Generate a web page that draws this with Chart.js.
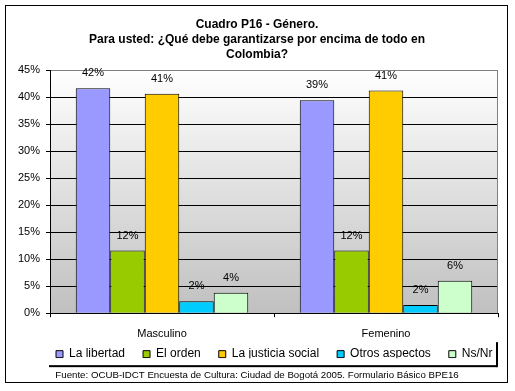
<!DOCTYPE html>
<html>
<head>
<meta charset="utf-8">
<script src="https://cdn.jsdelivr.net/npm/chart.js@4/dist/chart.umd.min.js"></script>
<style>
html,body{margin:0;padding:0;background:#fff;}
canvas{display:block;}
</style>
</head>
<body>
<canvas id="c" width="515" height="391"></canvas>
<script>
// ---- data ----
const categories = ['Masculino', 'Femenino'];
const seriesNames = ['La libertad', 'El orden', 'La justicia social', 'Otros aspectos', 'Ns/Nr'];
const laLibertad = [41.6, 39.4];
const elOrden = [11.6, 11.6];
const laJusticiaSocial = [40.6, 41.2];
const otrosAspectos = [2.2, 1.5];
const nsNr = [3.8, 6.0];
const yTicks = [0, 5, 10, 15, 20, 25, 30, 35, 40, 45];
const titleLines = ['Cuadro P16 - Género.', 'Para usted: ¿Qué debe garantizarse por encima de todo en', 'Colombia?'];
const footerText = 'Fuente: OCUB-IDCT Encuesta de Cultura: Ciudad de Bogotá 2005. Formulario Básico BPE16';

const seriesValues = [laLibertad, elOrden, laJusticiaSocial, otrosAspectos, nsNr];
const seriesColors = ['#9999FF', '#99CC00', '#FFCC00', '#00CCFF', '#CCFFCC'];

Chart.defaults.font.family = "'Liberation Sans', Arial, sans-serif";
Chart.defaults.color = '#000';

const LEGEND_PAD = 18;

const bgPlugin = {
  id: 'bgPlugin',
  afterLayout(chart) {
    // place legend row closer to the axis labels and align it like the original
    const lg = chart.legend;
    const a = chart.chartArea;
    const w = lg.right - lg.left;
    lg.left = a.left + 6 - LEGEND_PAD;
    lg.right = lg.left + w;
    lg.top -= 10;
    lg.bottom -= 10;
  },
  beforeDraw(chart) {
    const {ctx, chartArea: a} = chart;
    ctx.save();
    ctx.fillStyle = '#fff';
    ctx.fillRect(0, 0, chart.width, chart.height);
    const g = ctx.createLinearGradient(0, a.top, 0, a.bottom);
    g.addColorStop(0, '#ffffff');
    g.addColorStop(1, '#c0c0c0');
    ctx.fillStyle = g;
    ctx.fillRect(a.left, a.top, a.right - a.left, a.bottom - a.top);
    ctx.restore();
  },
  afterDraw(chart) {
    const {ctx, chartArea: a} = chart;
    ctx.save();
    // plot area right border
    ctx.strokeStyle = '#808080';
    ctx.lineWidth = 1;
    ctx.beginPath();
    ctx.moveTo(Math.round(a.right) - 0.5, a.top);
    ctx.lineTo(Math.round(a.right) - 0.5, a.bottom);
    ctx.stroke();
    // outer frame
    ctx.strokeStyle = '#000';
    ctx.strokeRect(5.5, 5.5, 502, 377);
    // legend shadow
    const lg = chart.legend;
    const yc = lg.top + LEGEND_PAD + 6;
    ctx.fillStyle = '#000';
    ctx.fillRect(a.left - 1, yc + 11, a.right - a.left, 2);
    ctx.fillRect(a.right - 2, yc - 12, 2, 25);
    ctx.restore();
  },
  afterDatasetsDraw(chart) {
    const {ctx} = chart;
    ctx.save();
    ctx.font = "11px 'Liberation Sans', Arial, sans-serif";
    ctx.fillStyle = '#000';
    ctx.textAlign = 'center';
    ctx.textBaseline = 'middle';
    chart.data.datasets.forEach((ds, i) => {
      chart.getDatasetMeta(i).data.forEach((bar, j) => {
        ctx.fillText(Math.round(ds.data[j]) + '%', bar.x, bar.y - 15);
      });
    });
    ctx.restore();
  }
};

new Chart(document.getElementById('c'), {
  type: 'bar',
  data: {
    labels: categories,
    datasets: seriesNames.map((name, i) => ({
      label: name,
      data: seriesValues[i],
      backgroundColor: seriesColors[i],
      borderColor: '#000',
      borderWidth: 1,
      categoryPercentage: 0.77,
      barPercentage: 1
    }))
  },
  options: {
    responsive: false,
    animation: false,
    devicePixelRatio: 1,
    layout: {padding: {top: 17, left: 16, right: 17, bottom: 10}},
    scales: {
      x: {
        grid: {drawOnChartArea: false, drawTicks: true, tickLength: 4, color: '#000'},
        border: {color: '#000'},
        ticks: {font: {size: 11}, padding: 10, color: '#000'},
        afterFit(s) { s.height = 27; }
      },
      y: {
        min: 0, max: 45,
        afterBuildTicks(s) { s.ticks = yTicks.map(v => ({value: v})); },
        grid: {
          color: c => (c.tick && c.tick.value === 45 ? '#808080' : '#000'),
          tickColor: '#000',
          tickLength: 4
        },
        border: {color: '#000'},
        ticks: {font: {size: 11}, padding: 6, color: '#000', callback: v => v + '%'},
        afterFit(s) { s.width = 34; }
      }
    },
    plugins: {
      tooltip: {enabled: false},
      title: {
        display: true,
        text: titleLines,
        font: {size: 12, weight: 'bold', lineHeight: 1.25},
        padding: {top: 0, bottom: 8},
        color: '#000'
      },
      subtitle: {
        display: true,
        position: 'bottom',
        text: footerText,
        font: {size: 9.7, lineHeight: 1.2},
        padding: {top: 1.2, bottom: 0},
        color: '#000'
      },
      legend: {
        position: 'bottom',
        align: 'start',
        maxHeight: 28,
        labels: {
          boxWidth: 7,
          boxHeight: 7,
          padding: LEGEND_PAD,
          font: {size: 12},
          color: '#000',
          generateLabels(chart) {
            return chart.data.datasets.map((ds, i) => ({
              text: ds.label,
              fillStyle: ds.backgroundColor,
              strokeStyle: '#000',
              lineWidth: 1,
              datasetIndex: i
            }));
          }
        }
      }
    }
  },
  plugins: [bgPlugin]
});
</script>
</body>
</html>
